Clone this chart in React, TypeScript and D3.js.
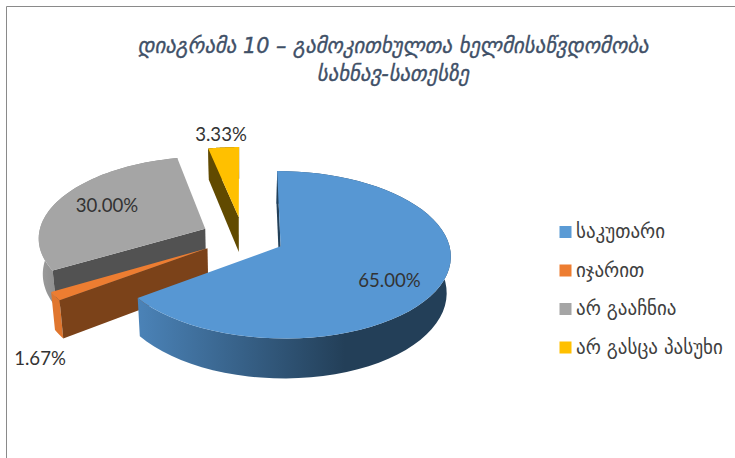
import React from "react";
import * as d3 from "d3";

const categories = ["საკუთარი", "იჯარით", "არ გააჩნია", "არ გასცა პასუხი"];
const percentValues = [65.0, 1.67, 30.0, 3.33];
const titleLines = ["დიაგრამა 10 – გამოკითხულთა ხელმისაწვდომობა", "სახნავ-სათესზე"];
const topColors = ["#5797d3", "#ed7d31", "#a5a5a5", "#ffc000"];
const cutColors = ["#234059", "#7b4219", "#525252", "#614a00"];
const legendColors = ["#5b9bd5", "#ed7d31", "#a5a5a5", "#ffc000"];
const labelPos: [number, number][] = [[389.5, 281], [40, 359], [107, 206], [221, 135]];

const W = 735, H = 458;
const CX = 243, CY = 237, RX = 167, RY = 81, PERSP = 0.1, DEPTH = 35.5, EXPLODE = 0.25, CONVERGE = 0.98;

type Pt = [number, number];
function proj(u: number, v: number, down = false): Pt {
  const s = 1 / (1 + PERSP * v);
  const x = CX + RX * u * s;
  const y = CY - RY * v * s;
  return down ? [CX + (x - CX) * CONVERGE, y + DEPTH * s] : [x, y];
}

const pie = d3.pie<number>().sort(null).value((d) => d);
const arcs = pie(percentValues);
const line = d3.line<Pt>();

function geom(a: d3.PieArcDatum<number>) {
  const mid = (a.startAngle + a.endAngle) / 2;
  const ou = Math.sin(mid) * EXPLODE, ov = Math.cos(mid) * EXPLODE;
  const pt = (t: number, down = false) => proj(ou + Math.sin(t), ov + Math.cos(t), down);
  const angles = d3.range(0, 61).map((i) => a.startAngle + ((a.endAngle - a.startAngle) * i) / 60);
  return {
    top: angles.map((t) => pt(t)),
    bottom: angles.map((t) => pt(t, true)),
    apex: proj(ou, ov),
    apexB: proj(ou, ov, true),
  };
}

export default function App() {
  const gs = arcs.map(geom);
  const order = [3, 2, 1, 0];
  return (
    <svg width={W} height={H} style={{ position: "absolute", left: 0, top: 0, background: "#fff" }}>
      <defs>
        <linearGradient id="wall0" gradientUnits="userSpaceOnUse" x1={137} x2={345} y1={0} y2={0}>
          <stop offset="0" stopColor="#4b83b8" />
          <stop offset="1" stopColor="#233f58" />
        </linearGradient>
        <linearGradient id="wall2" gradientUnits="userSpaceOnUse" x1={35} x2={60} y1={0} y2={0}>
          <stop offset="0" stopColor="#a0a0a0" />
          <stop offset="1" stopColor="#8c8c8c" />
        </linearGradient>
      </defs>
      <path d="M6.5,458V6.5H735" fill="none" stroke="#8a8a8a" strokeWidth={1} />
      {order.map((i) => {
        const g = gs[i];
        const wall = [...g.top, ...g.bottom.slice().reverse()];
        const cut = [g.top[0], g.apex, g.apexB, g.bottom[0]];
        const surface = [g.apex, ...g.top];
        const wallFill = i === 0 ? "url(#wall0)" : i === 2 ? "url(#wall2)" : i === 1 ? "#e0762e" : cutColors[i];
        return (
          <g key={i}>
            <path d={line(wall) + "Z"} fill={wallFill} />
            <path d={line(cut) + "Z"} fill={cutColors[i]} />
            <path d={line(surface) + "Z"} fill={topColors[i]} />
          </g>
        );
      })}
      <g fontFamily="'DejaVu Sans'" fontStyle="italic" fontSize={20.8} fill="#3f5067" stroke="#3f5067" strokeWidth={0.35} textAnchor="middle">
        {titleLines.map((t, i) => (
          <text key={i} x={393} y={53 + i * 28}>{t}</text>
        ))}
      </g>
      <g fontFamily="Lato, 'Liberation Sans'" fontSize={18.6} fill="#333333" textAnchor="middle">
        {percentValues.map((v, i) => (
          <text key={i} x={labelPos[i][0]} y={labelPos[i][1] + 6}>{d3.format(".2f")(v)}%</text>
        ))}
      </g>
      <g fontFamily="'DejaVu Sans'" fontSize={19} fill="#404040">
        {categories.map((c, i) => (
          <g key={i} transform={`translate(559.5,${232 + i * 38.5})`}>
            <rect x={0} y={-6} width={12} height={12} fill={legendColors[i]} />
            <text x={16.5} y={6}>{c}</text>
          </g>
        ))}
      </g>
    </svg>
  );
}
